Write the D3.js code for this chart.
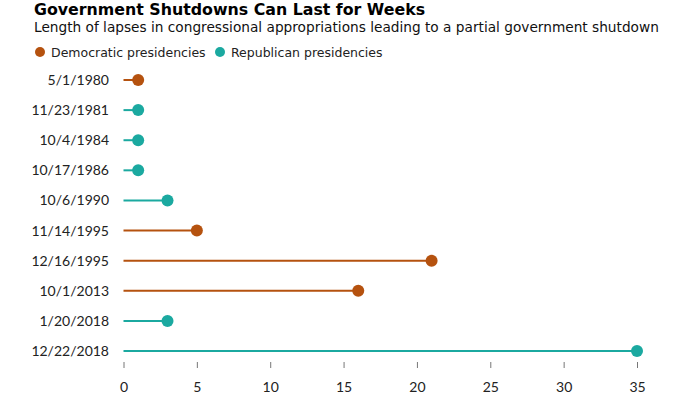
<!DOCTYPE html>
<html>
<head>
<meta charset="utf-8">
<script src="https://cdn.jsdelivr.net/npm/d3@7"></script>
<style>
  body { margin: 0; background: #fff; }
  .title { font-family: "DejaVu Sans", sans-serif; font-weight: bold; font-size: 15.8px; fill: #000; }
  .sub { font-family: "DejaVu Sans", sans-serif; font-size: 13.7px; fill: #111; }
  .legend { font-family: "DejaVu Sans", sans-serif; font-size: 12.5px; fill: #222; }
  .lbl { font-family: Lato, sans-serif; font-size: 14px; fill: #222; }
</style>
</head>
<body>
<div class="chart"></div>
<script>
const dates = ["5/1/1980", "11/23/1981", "10/4/1984", "10/17/1986", "10/6/1990",
  "11/14/1995", "12/16/1995", "10/1/2013", "1/20/2018", "12/22/2018"];
const days = [1, 1, 1, 1, 3, 5, 21, 16, 3, 35];
const party = ["Democratic", "Republican", "Republican", "Republican", "Republican",
  "Democratic", "Democratic", "Democratic", "Republican", "Republican"];
const xTicks = [0, 5, 10, 15, 20, 25, 30, 35];

const width = 700;
const height = 394;
const margin = { top: 65, right: 63, bottom: 43, left: 123.5 };

const colors = { Democratic: "#b5520f", Republican: "#1ba9a0" };

const svg = d3.select(".chart")
  .append("svg")
  .attr("width", width)
  .attr("height", height);

svg.append("text").attr("class", "title").attr("x", 34).attr("y", 15)
  .text("Government Shutdowns Can Last for Weeks");
svg.append("text").attr("class", "sub").attr("x", 34).attr("y", 32)
  .text("Length of lapses in congressional appropriations leading to a partial government shutdown");

// legend
const legendItems = [
  { key: "Democratic", label: "Democratic presidencies", x: 40 },
  { key: "Republican", label: "Republican presidencies", x: 220 }
];
legendItems.forEach(l => {
  svg.append("circle").attr("cx", l.x).attr("cy", 52).attr("r", 5).attr("fill", colors[l.key]);
  svg.append("text").attr("class", "legend").attr("x", l.x + 11).attr("y", 57).text(l.label);
});

const x = d3.scaleLinear().domain([0, 35]).range([margin.left, width - margin.right]);
const y = d3.scalePoint().domain(dates).range([80, 351]);

const rows = dates.map((d, i) => ({ date: d, value: days[i], party: party[i] }));

svg.selectAll(".stem").data(rows).enter()
  .append("line")
  .attr("x1", x(0))
  .attr("x2", d => x(d.value))
  .attr("y1", d => y(d.date))
  .attr("y2", d => y(d.date))
  .attr("stroke", d => colors[d.party])
  .attr("stroke-width", 2);

svg.selectAll(".dot").data(rows).enter()
  .append("circle")
  .attr("cx", d => x(d.value))
  .attr("cy", d => y(d.date))
  .attr("r", 6)
  .attr("fill", d => colors[d.party]);

svg.selectAll(".date").data(rows).enter()
  .append("text")
  .attr("class", "lbl")
  .attr("x", 109)
  .attr("y", d => y(d.date) + 5)
  .attr("text-anchor", "end")
  .text(d => d.date);

// x axis: short ticks, no domain line
const xAxis = d3.axisBottom(x).tickValues(xTicks).tickSize(6).tickPadding(14);
const gx = svg.append("g")
  .attr("transform", "translate(0,362)")
  .call(xAxis);
gx.select(".domain").remove();
gx.selectAll(".tick line").attr("stroke", "#777");
gx.selectAll(".tick text").attr("class", "lbl").attr("fill", "#222");
</script>
</body>
</html>
